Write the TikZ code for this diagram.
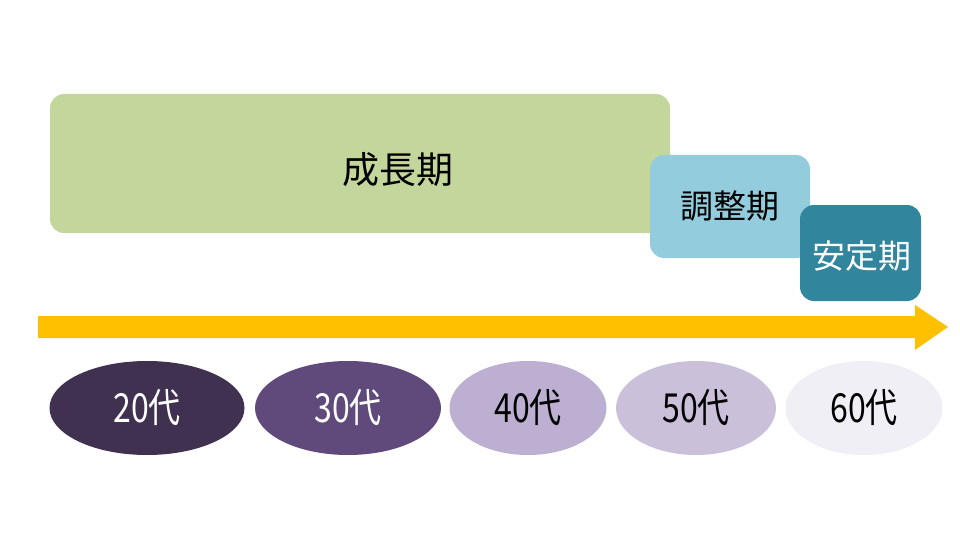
\documentclass[tikz,border=0pt]{standalone}
\usepackage{fontspec}
\newfontfamily\jp{Noto Sans CJK JP}
\usetikzlibrary{shapes.geometric}
\definecolor{growthgreen}{HTML}{C3D69B}
\definecolor{adjustblue}{HTML}{93CDDD}
\definecolor{stableteal}{HTML}{31859C}
\definecolor{timeamber}{HTML}{FFC000}
\definecolor{ageA}{HTML}{403151}
\definecolor{ageB}{HTML}{604A7B}
\definecolor{ageC}{HTML}{BCAFD2}
\definecolor{ageD}{HTML}{CBC0DA}
\definecolor{ageE}{HTML}{F1EFF6}
\newcommand{\agetxt}[1]{\scalebox{.8}[1]{#1}}
\tikzset{
  phase/.style={rectangle,rounded corners=14pt,inner sep=0pt},
  phaselabel/.style={font=\jp\fontsize{33}{36}\selectfont},
  age/.style={ellipse,inner sep=0pt,minimum height=94pt,font=\jp\fontsize{40}{44}\selectfont},
}
\begin{document}
\begin{tikzpicture}[x=1pt,y=-1pt]
\useasboundingbox (0,0) rectangle (960,540);
% phases
\node[phase,fill=growthgreen,minimum width=620pt,minimum height=139pt] (growth) at (360,163.5) {};
\node[phaselabel,font=\jp\fontsize{37}{40}\selectfont] (growthtxt) at (398,170) {成長期};
\node[phase,fill=adjustblue,minimum width=160pt,minimum height=103pt] (adjust) at (730,206.5) {};
\node[phaselabel] (adjusttxt) at (adjust) {調整期};
\node[phase,fill=stableteal,minimum width=121pt,minimum height=96pt] (stable) at (860.5,253) {};
\node[phaselabel,text=white] (stabletxt) at (862,256) {安定期};
% time arrow
\fill[timeamber] (38,316)--(915,316)--(915,305)--(948,327)--(915,350)--(915,338)--(38,338)--cycle;
% ages
\node[age,fill=ageA,text=white,minimum width=195pt] (a20) at (147,408) {\agetxt{20代}};
\node[age,fill=ageB,text=white,minimum width=186pt] (a30) at (348,408) {\agetxt{30代}};
\node[age,fill=ageC,minimum width=157pt] (a40) at (528,408) {\agetxt{40代}};
\node[age,fill=ageD,minimum width=160pt] (a50) at (696,408) {\agetxt{50代}};
\node[age,fill=ageE,minimum width=157pt] (a60) at (864,408) {\agetxt{60代}};
\end{tikzpicture}
\end{document}
